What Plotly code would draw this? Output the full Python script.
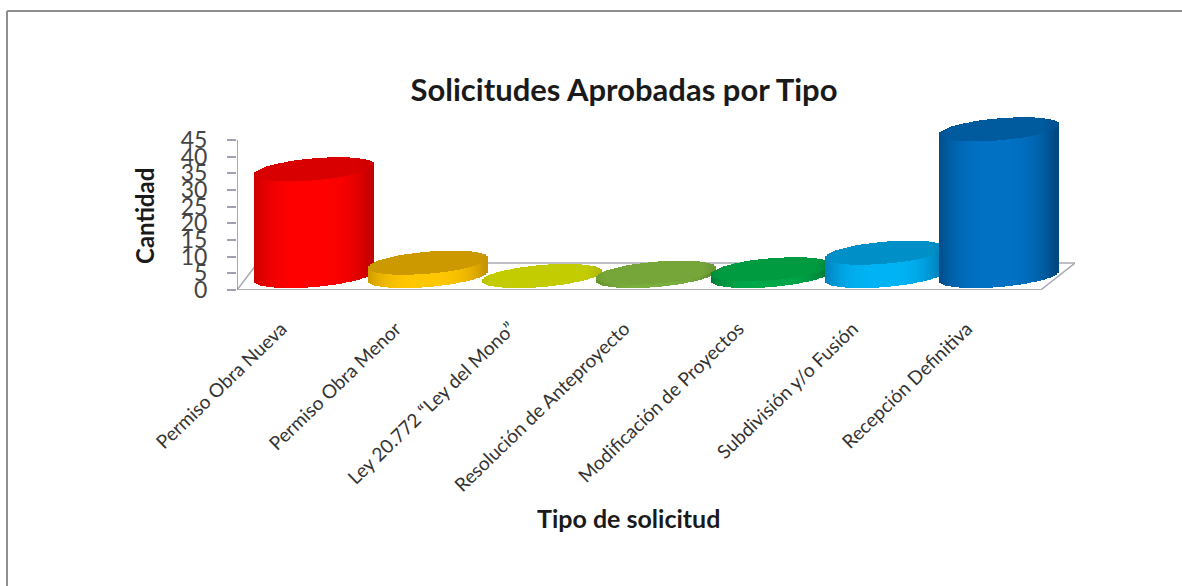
import numpy as np
import plotly.graph_objects as go

categories = ["Permiso Obra Nueva", "Permiso Obra Menor", "Ley 20.772 “Ley del Mono”",
              "Resolución de Anteproyecto", "Modificación de Proyectos",
              "Subdivisión y/o Fusión", "Recepción Definitiva"]
values = [32, 4, 0, 1, 2, 7, 44]
y_ticks = [0, 5, 10, 15, 20, 25, 30, 35, 40, 45]
body_colors = ["#ff0000", "#ffc800", "#c9d400", "#7cb03e", "#00a84a", "#00b4f5", "#0072c4"]
edge_colors = ["#c40000", "#c89400", "#a0a800", "#5f8a2c", "#007a34", "#0078b4", "#00467f"]
cap_colors = ["#d80000", "#cc9a00", "#c2cc00", "#76a63a", "#009a40", "#0090c8", "#005a9e"]

X_RANGE = [-0.67, 6.665]
Y_RANGE = [0, 54]
BASE_LEVEL = 4.2      # depth offset of the cylinder base on the floor
HALF_W = 0.525        # cylinder half width, category units
CAP_H = 3.3           # ellipse half height, value units
TILT = 1.5            # ellipse shear, value units
N = 60
FLOOR_BACK = 8.1
FLOOR_SHIFT = 0.3


def rgb(h):
    return np.array([int(h[i:i + 2], 16) for i in (1, 3, 5)], float)


def mix(a, b, t):
    c = rgb(a) * (1 - t) + rgb(b) * t
    return "rgb(%d,%d,%d)" % tuple(c)


fig = go.Figure()
u = (np.arange(N) + 0.5) / N * 2 - 1
s = np.sqrt(1 - u ** 2)
for i, v in enumerate(values):
    low = BASE_LEVEL + TILT * u - CAP_H * s
    top = BASE_LEVEL + v + TILT * u - CAP_H * s
    xs = i + u * HALF_W
    light = np.clip(1 - np.abs(u + 0.05) ** 3, 0, 1)
    body = [mix(edge_colors[i], body_colors[i], t) for t in light]
    cap = [mix(edge_colors[i], cap_colors[i], min(1, t + 0.5)) for t in light]
    fig.add_trace(go.Bar(x=np.r_[xs, xs], base=np.r_[low, top],
                         y=np.r_[top - low, 2 * CAP_H * s],
                         width=2 * HALF_W / N * 1.05,
                         marker=dict(color=body + cap, line_width=0),
                         name=categories[i], hoverinfo="name", showlegend=False))

grey = "#a8a8b4"
x0, x1 = X_RANGE
shapes = [
    dict(type="line", x0=x0, x1=x0, y0=0, y1=45, xref="x", yref="y", line=dict(color="#8c8c9c", width=1.5)),
    dict(type="line", x0=x0, x1=x1 - FLOOR_SHIFT, y0=0, y1=0, xref="x", yref="y", layer="below", line=dict(color="#b0aeb8", width=2)),
    dict(type="line", x0=x1 - FLOOR_SHIFT, x1=x1, y0=0, y1=FLOOR_BACK, xref="x", yref="y", layer="below", line=dict(color=grey, width=1.5)),
    dict(type="line", x0=x0 + 0.18, x1=x1, y0=FLOOR_BACK, y1=FLOOR_BACK, xref="x", yref="y", layer="below", line=dict(color=grey, width=1.5)),
    dict(type="line", x0=x0, x1=x0 + 0.18, y0=0, y1=FLOOR_BACK, xref="x", yref="y", layer="below", line=dict(color=grey, width=1.5)),
]
plot_w = 1182 - 237 - 107
plot_h = 586 - 110 - 296
fig.update_layout(
    width=1182, height=586,
    margin=dict(l=237, r=107, t=110, b=296, autoexpand=False),
    paper_bgcolor="white", plot_bgcolor="rgba(0,0,0,0)",
    barmode="overlay", bargap=0, showlegend=False,
    font=dict(family="Lato", color="#222222"),
    title=dict(text="<b>Solicitudes Aprobadas por Tipo</b>", x=624 / 1182, xanchor="center",
               y=1 - 90 / 586, yanchor="middle", font=dict(size=31, family="Lato", color="#1a1a1a")),
    xaxis=dict(range=X_RANGE, tickmode="array", tickvals=list(range(len(categories))), ticktext=categories,
               tickangle=-44, tickfont=dict(size=19, color="#333333"), showgrid=False, zeroline=False,
               showline=False, ticks="", ticklabelstandoff=23, ticklabelshift=-32, automargin=False),
    yaxis=dict(range=Y_RANGE, tickmode="array", tickvals=y_ticks, ticks="outside", ticklen=9, tickwidth=1.5,
               tickcolor="#a0a0b0", tickfont=dict(size=23, color="#444444"), showgrid=False, zeroline=False,
               showline=False, ticklabelstandoff=15, automargin=False),
    shapes=shapes,
    annotations=[
        dict(text="<b>Cantidad</b>", textangle=-90, x=(144 - 237) / plot_w, xanchor="center",
             y=(110 + plot_h - 216) / plot_h, yanchor="middle", xref="paper", yref="paper",
             showarrow=False, font=dict(size=24, color="#1a1a1a")),
        dict(text="<b>Tipo de solicitud</b>", x=(628 - 237) / plot_w, xanchor="center",
             y=(290 - 518) / plot_h, yanchor="middle", xref="paper", yref="paper",
             showarrow=False, font=dict(size=25, color="#1a1a1a")),
    ],
)
# Chart-area frame: only top and left edges are visible in the picture
fig.add_shape(type="line", xref="paper", yref="paper", x0=(7 - 237) / plot_w, x1=(1182 - 237) / plot_w,
              y0=(290 - 11) / plot_h, y1=(290 - 11) / plot_h, line=dict(color="#8f8f8f", width=2))
fig.add_shape(type="line", xref="paper", yref="paper", x0=(7 - 237) / plot_w, x1=(7 - 237) / plot_w,
              y0=(290 - 11) / plot_h, y1=(290 - 586) / plot_h, line=dict(color="#8f8f8f", width=2))
fig.write_html("out.html", config={"displayModeBar": False},
               post_script="document.body.style.margin='0';")
